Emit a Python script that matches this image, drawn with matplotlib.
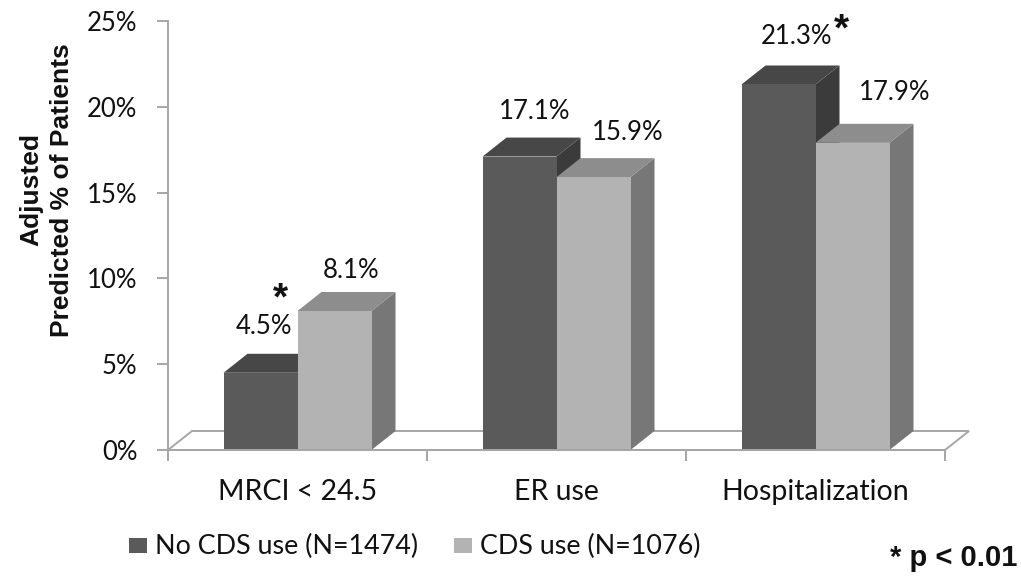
import matplotlib
matplotlib.use("Agg")
import matplotlib.pyplot as plt
from matplotlib.patches import Polygon, Rectangle
from matplotlib.transforms import blended_transform_factory

# ---- data -------------------------------------------------------------
categories = ["MRCI < 24.5", "ER use", "Hospitalization"]
no_cds_pct = [4.5, 17.1, 21.3]
cds_pct = [8.1, 15.9, 17.9]
series_names = ["No CDS use (N=1474)", "CDS use (N=1076)"]
significant = [True, False, True]
y_ticks = [0, 5, 10, 15, 20, 25]
y_tick_labels = ["0%", "5%", "10%", "15%", "20%", "25%"]

# ---- styling ----------------------------------------------------------
W, H = 1021, 582
LABEL_FONT = "Lato"
BOLD_FONT = "Liberation Sans"
AXIS_GRAY = "#a6a6a6"
DARK = ("#5a5a5a", "#474747", "#3b3b3b")    # front, top, side
LIGHT = ("#b3b3b3", "#8d8d8d", "#777777")

# label offsets (pixels) from the top-centre of each bar's front face
dark_label_off = [(3, 46), (15, 45), (18, 48)]
light_label_off = [(17, 41), (34, 45), (42, 50)]
# asterisk offsets (pixels) relative to the "No CDS" label centre
star_off = [(17, 36), None, (45, 15)]

fig = plt.figure(figsize=(W / 100, H / 100), dpi=100)
ax = fig.add_axes([168 / W, 1 - 450 / H, (945 - 168) / W, (450 - 21) / H])
ax.set_xlim(-0.5, len(categories) - 0.5)
ax.set_ylim(0, 25)

# pseudo-3D depth of the floor and bars, in data units
px_per_cat = (945 - 168) / len(categories)
px_per_pct = (450 - 21) / 25
depth_x = 24 / px_per_cat
depth_y = 19 / px_per_pct
bar_w = 74 / px_per_cat

# floor
x_lo, x_hi = ax.get_xlim()
ax.add_patch(Polygon([(x_lo, 0), (x_hi, 0), (x_hi + depth_x, depth_y),
                      (x_lo + depth_x, depth_y)], closed=True,
                     facecolor="white", edgecolor=AXIS_GRAY, lw=1.4,
                     clip_on=False, zorder=1))


def draw_bar(x0, h, colors):
    x1 = x0 + bar_w
    front, top, side = colors
    ax.add_patch(Polygon([(x1, 0), (x1 + depth_x, depth_y),
                          (x1 + depth_x, h + depth_y), (x1, h)],
                         closed=True, facecolor=side, edgecolor="none",
                         clip_on=False, zorder=2))
    ax.add_patch(Polygon([(x0, h), (x1, h), (x1 + depth_x, h + depth_y),
                          (x0 + depth_x, h + depth_y)], closed=True,
                         facecolor=top, edgecolor="none", clip_on=False,
                         zorder=2))
    ax.add_patch(Polygon([(x0, 0), (x1, 0), (x1, h), (x0, h)], closed=True,
                         facecolor=front, edgecolor="none", clip_on=False,
                         zorder=2))


label_kw = dict(textcoords="offset pixels", ha="center", va="center",
                fontsize=18.5, family=LABEL_FONT, color="#111111", zorder=5)

for i, (a, b) in enumerate(zip(no_cds_pct, cds_pct)):
    draw_bar(i - bar_w, a, DARK)
    draw_bar(i, b, LIGHT)
    ox, oy = dark_label_off[i]
    ax.annotate(f"{a:.1f}%", xy=(i - bar_w / 2, a), xytext=(ox, oy), **label_kw)
    ox2, oy2 = light_label_off[i]
    ax.annotate(f"{b:.1f}%", xy=(i + bar_w / 2, b), xytext=(ox2, oy2), **label_kw)
    if significant[i]:
        sx, sy = star_off[i]
        ax.annotate("*", xy=(i - bar_w / 2, a), xytext=(ox + sx, oy + sy - 19),
                    textcoords="offset pixels", ha="center", va="baseline",
                    fontsize=28, family=BOLD_FONT, fontweight="bold",
                    color="#111111", zorder=5)

# axes
for s in ("top", "right"):
    ax.spines[s].set_visible(False)
for s in ("left", "bottom"):
    ax.spines[s].set_color(AXIS_GRAY)
    ax.spines[s].set_linewidth(1.4)
ax.set_yticks(y_ticks)
ax.set_yticklabels(y_tick_labels, family=LABEL_FONT, fontsize=18.5,
                   color="#111111")
ax.tick_params(axis="y", direction="out", length=8, width=1.4,
               color=AXIS_GRAY, pad=14)
ax.set_xticks([k - 0.5 for k in range(len(categories) + 1)])
ax.set_xticklabels([])
ax.tick_params(axis="x", direction="out", length=8, width=1.4,
               color=AXIS_GRAY)
ax.patch.set_visible(False)

cat_tr = blended_transform_factory(ax.transData, fig.transFigure)
for i, c in enumerate(categories):
    ax.text(i, 1 - 492 / H, c, transform=cat_tr, ha="center", va="center",
            fontsize=20.5, family=LABEL_FONT, color="#111111")

fig.text(47 / W, 1 - 190 / H, "Adjusted\nPredicted % of Patients",
         rotation=90, ha="center", va="center", multialignment="center",
         fontsize=19, family=BOLD_FONT, fontweight="bold", color="#111111",
         linespacing=1.35)

# legend
legend_items = [(129, series_names[0], DARK[0]), (454, series_names[1], LIGHT[0])]
for x_px, name, col in legend_items:
    fig.add_artist(Rectangle((x_px / W, 1 - 553 / H), 18 / W, 15 / H,
                             transform=fig.transFigure, facecolor=col,
                             edgecolor="none"))
    fig.text((x_px + 26) / W, 1 - 546 / H, name, ha="left", va="center",
             fontsize=19.4, family=LABEL_FONT, color="#111111")

fig.text(1017 / W, 1 - 558 / H, "* p < 0.01", ha="right", va="center",
         fontsize=21, family=BOLD_FONT, fontweight="bold", color="#111111")

fig.savefig("out.png", dpi=100, facecolor="white")
